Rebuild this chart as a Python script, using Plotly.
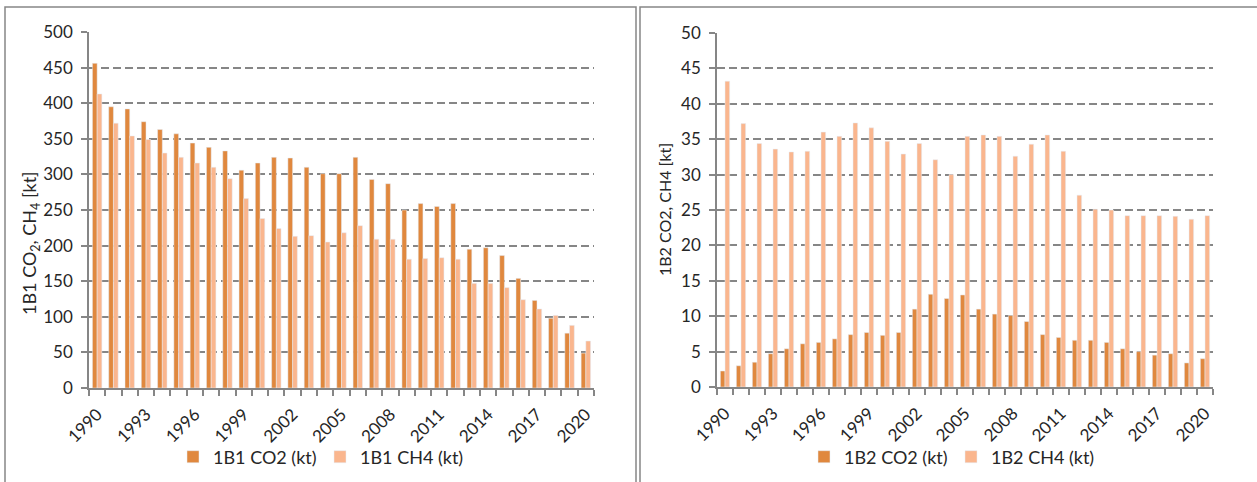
import plotly.graph_objects as go

years = list(range(1990, 2021))
b1_co2 = [456, 395, 392, 374, 363, 357, 344, 338, 333, 306, 316, 324, 323, 310, 301,
          301, 324, 293, 287, 250, 259, 255, 259, 195, 197, 186, 154, 123, 98, 77, 49]
b1_ch4 = [413, 372, 354, 349, 330, 324, 316, 310, 294, 266, 238, 224, 213, 214, 205,
          218, 228, 209, 209, 181, 182, 183, 181, 147, 147, 141, 124, 111, 102, 88, 66]
b2_co2 = [2.26, 3.0, 3.5, 4.7, 5.4, 6.1, 6.3, 6.8, 7.4, 7.7, 7.3, 7.7, 11.0, 13.1, 12.5,
          13.0, 11.0, 10.3, 10.1, 9.25, 7.4, 7.0, 6.6, 6.6, 6.3, 5.4, 5.0, 4.5, 4.7, 3.4, 4.0]
b2_ch4 = [43.2, 37.2, 34.4, 33.6, 33.2, 33.3, 36.0, 35.4, 37.3, 36.6, 34.7, 32.9, 34.4, 32.1, 30.0,
          35.4, 35.6, 35.4, 32.6, 34.3, 35.6, 33.3, 27.1, 25.1, 25.0, 24.2, 24.2, 24.2, 24.1, 23.7, 24.2]
label_years = years[::3]

DARK = "#E0883E"
LIGHT = "#FAB68E"
GRID = "#868686"
TXT = "#262626"
FONT = "Lato"

W, H = 1257, 482


def px(x):
    return x / W


def py(y):
    return (H - y) / H


fig = go.Figure()
fig.add_trace(go.Bar(x=years, y=b1_co2, name="1B1 CO2 (kt)", marker_color=DARK,
                     xaxis="x", yaxis="y", legend="legend"))
fig.add_trace(go.Bar(x=years, y=b1_ch4, name="1B1 CH4 (kt)", marker_color=LIGHT,
                     xaxis="x", yaxis="y", legend="legend"))
fig.add_trace(go.Bar(x=years, y=b2_co2, name="1B2 CO2 (kt)", marker_color=DARK,
                     xaxis="x2", yaxis="y2", legend="legend2"))
fig.add_trace(go.Bar(x=years, y=b2_ch4, name="1B2 CH4 (kt)", marker_color=LIGHT,
                     xaxis="x2", yaxis="y2", legend="legend2"))

boundaries = [y - 0.5 for y in years] + [years[-1] + 0.5]


def xaxis(domain, anchor):
    return dict(domain=domain, anchor=anchor, range=[years[0] - 0.5, years[-1] + 0.5],
                automargin=False,
                tickmode="array", tickvals=label_years, ticktext=[str(v) for v in label_years],
                tickangle=-45, ticks="", showgrid=False, zeroline=False,
                showline=True, linecolor=GRID, linewidth=1.5, ticklabelstandoff=8,
                tickfont=dict(family=FONT, size=17, color=TXT),
                minor=dict(tickmode="array", tickvals=boundaries, ticks="outside",
                           ticklen=6, tickcolor=GRID, tickwidth=1.5, showgrid=False))


def yaxis(domain, anchor, rng, dtick):
    return dict(domain=domain, anchor=anchor, range=rng, dtick=dtick, automargin=False,
                showgrid=True, gridcolor=GRID, gridwidth=2, griddash="8px,4px",
                zeroline=False, showline=True, linecolor=GRID, linewidth=1.5,
                ticks="outside", ticklen=6, tickcolor=GRID, tickwidth=1.5,
                ticklabelstandoff=5,
                tickfont=dict(family=FONT, size=17, color=TXT))


legend_common = dict(orientation="h", xanchor="center", y=py(457), yanchor="middle",
                     font=dict(family=FONT, size=18, color=TXT), bgcolor="rgba(0,0,0,0)",
                     itemwidth=30, entrywidth=102, entrywidthmode="pixels")

fig.update_layout(
    width=W, height=H,
    margin=dict(l=0, r=0, t=0, b=0, autoexpand=False),
    paper_bgcolor="white", plot_bgcolor="white",
    barmode="group", bargap=0.42, bargroupgap=0.0,
    xaxis=xaxis([px(89), px(594)], "y"),
    yaxis=yaxis([py(388), py(32)], "x", [0, 500], 50),
    xaxis2=xaxis([px(717), px(1213)], "y2"),
    yaxis2=yaxis([py(387), py(33)], "x2", [0, 50], 5),
    legend=dict(x=px(320), **legend_common),
    legend2=dict(x=px(951), **legend_common),
    annotations=[
        dict(text="1B1 CO<sub>2</sub>, CH<sub>4</sub> [kt]", textangle=-90, xref="paper", yref="paper",
             x=px(30), y=py(243), xanchor="center", yanchor="middle", showarrow=False,
             font=dict(family=FONT, size=18, color=TXT)),
        dict(text="1B2 CO2, CH4 [kt]", textangle=-90, xref="paper", yref="paper",
             x=px(664), y=py(210), xanchor="center", yanchor="middle", showarrow=False,
             font=dict(family=FONT, size=16, color=TXT)),
    ],
    shapes=[
        dict(type="rect", xref="paper", yref="paper", x0=px(5), x1=px(636),
             y0=-0.05, y1=py(7), line=dict(color=GRID, width=1.5)),
        dict(type="rect", xref="paper", yref="paper", x0=px(640), x1=1.05,
             y0=-0.05, y1=py(7), line=dict(color=GRID, width=1.5)),
    ],
)

fig.write_html("out.html", config={"displayModeBar": False},
               post_script="document.body.style.margin='0';document.body.style.overflow='hidden';")
